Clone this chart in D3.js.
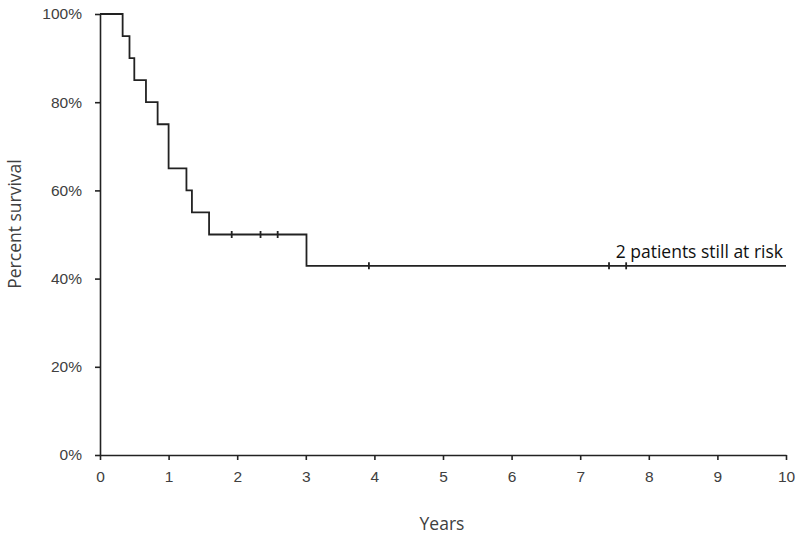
<!DOCTYPE html>
<html lang="en">
<head>
  <meta charset="UTF-8">
  <title>Percent survival</title>
  <script src="https://d3js.org/d3.v7.min.js"></script>
  <style>
    body { margin: 0; background: #fff; }
    svg { display: block; font-family: "Open Sans", "Liberation Sans", sans-serif; }
    .axis path, .axis line { stroke: #222; stroke-width: 1.6px; }
    .axis text { fill: #404040; font-size: 15.5px; }
    .label { fill: #404040; font-size: 17.5px; }
  </style>
</head>
<body>
  <svg width="800" height="542"></svg>

  <script>
    // Kaplan-Meier steps (years, percent surviving after the event)
    const eventYears = [0.33, 0.43, 0.5, 0.67, 0.84, 1.0, 1.26, 1.34, 1.59, 3.01];
    const survivalPct = [95, 90, 85, 80, 75, 65, 60, 55, 50, 42.9];
    // censored patients
    const censorYears = [1.92, 2.34, 2.59, 3.92, 7.42, 7.67];
    const followUpEnd = 10;
    const xTicks = [0, 1, 2, 3, 4, 5, 6, 7, 8, 9, 10];
    const yTicks = [0, 20, 40, 60, 80, 100];

    const svg = d3.select("svg");
    const margin = { top: 14, right: 14, bottom: 87, left: 100 };
    const width = +svg.attr("width");
    const height = +svg.attr("height");

    const x = d3.scaleLinear().domain([0, 10]).range([margin.left, width - margin.right]);
    const y = d3.scaleLinear().domain([0, 100]).range([height - margin.bottom, margin.top]);

    // axes
    svg.append("g")
      .attr("class", "axis")
      .attr("transform", `translate(0,${y(0)})`)
      .call(d3.axisBottom(x).tickValues(xTicks).tickSize(5).tickPadding(9).tickSizeOuter(0))
      .selectAll("text").attr("dy", "0.85em");

    svg.append("g")
      .attr("class", "axis")
      .attr("transform", `translate(${x(0)},0)`)
      .call(d3.axisLeft(y).tickValues(yTicks).tickSize(5).tickPadding(13)
        .tickFormat(d => d + "%").tickSizeOuter(0));

    // survival curve
    const pts = [[0, 100]];
    eventYears.forEach((t, i) => pts.push([t, survivalPct[i]]));
    pts.push([followUpEnd, survivalPct[survivalPct.length - 1]]);

    const line = d3.line()
      .x(d => x(d[0]))
      .y(d => y(d[1]))
      .curve(d3.curveStepAfter);

    svg.append("path")
      .datum(pts)
      .attr("fill", "none")
      .attr("stroke", "#222")
      .attr("stroke-width", 1.8)
      .attr("d", line);

    // survival level at a given time
    function survivalAt(t) {
      let s = 100;
      eventYears.forEach((e, i) => { if (e <= t) s = survivalPct[i]; });
      return s;
    }

    svg.append("g")
      .selectAll("line")
      .data(censorYears)
      .join("line")
      .attr("x1", d => x(d))
      .attr("x2", d => x(d))
      .attr("y1", d => y(survivalAt(d)) - 3.5)
      .attr("y2", d => y(survivalAt(d)) + 3.5)
      .attr("stroke", "#222")
      .attr("stroke-width", 1.8);

    // annotation
    svg.append("text")
      .attr("class", "label")
      .attr("x", x(10) - 3)
      .attr("y", y(42.9) - 8)
      .attr("text-anchor", "end")
      .style("fill", "#111")
      .text("2 patients still at risk");

    // axis titles
    svg.append("text")
      .attr("class", "label")
      .attr("x", 442)
      .attr("y", 530)
      .attr("text-anchor", "middle")
      .text("Years");

    svg.append("text")
      .attr("class", "label")
      .attr("transform", "translate(21,224) rotate(-90)")
      .attr("text-anchor", "middle")
      .text("Percent survival");
  </script>
</body>
</html>
